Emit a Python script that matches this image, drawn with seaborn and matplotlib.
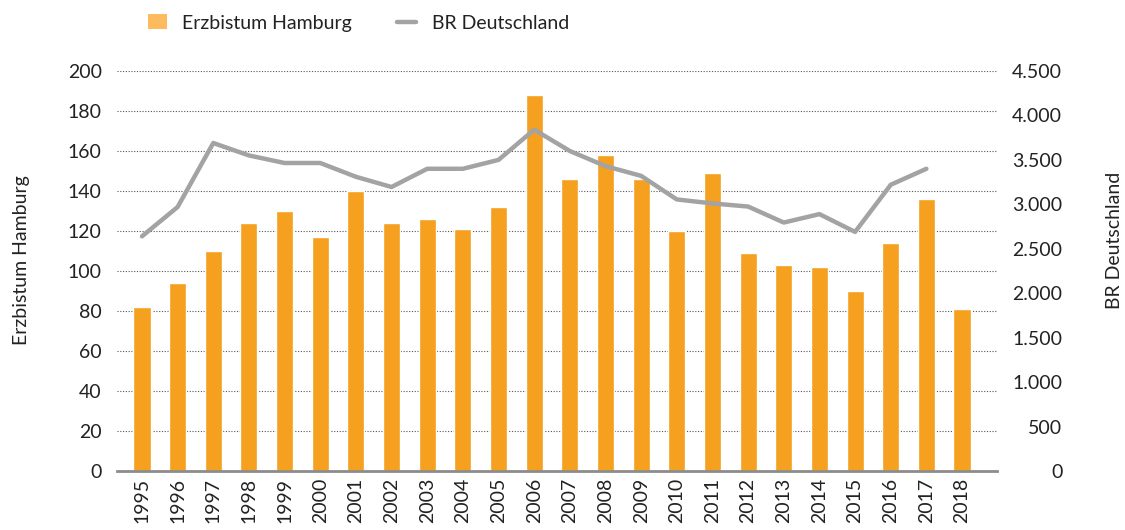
import pandas as pd
import numpy as np
import matplotlib.pyplot as plt
import seaborn as sns
from matplotlib.ticker import FuncFormatter, MultipleLocator
from matplotlib.patches import Patch
from matplotlib.lines import Line2D

years = [str(y) for y in range(1995, 2019)]
hamburg = [82, 94, 110, 124, 130, 117, 140, 124, 126, 121, 132, 188,
           146, 158, 146, 120, 149, 109, 103, 102, 90, 114, 136, 81]
# BR Deutschland: keine Angabe fuer 2018
deutschland = [2640, 2970, 3690, 3550, 3465, 3465, 3310, 3195, 3400, 3400,
               3500, 3840, 3600, 3430, 3320, 3055, 3010, 2975, 2795, 2890,
               2690, 3220, 3400]

bar_color = "#F5A01E"
line_color = "#A3A3A3"

sns.set_style("white")
plt.rcParams["font.family"] = ["Lato", "DejaVu Sans"]

df_bar = pd.DataFrame({"Jahr": years, "Wert": hamburg})
df_line = pd.DataFrame({"Jahr": years[:len(deutschland)], "Wert": deutschland})

fig = plt.figure(figsize=(11.25, 5.3), dpi=100)
ax = fig.add_axes([117 / 1125, 59 / 530, 880 / 1125, 400 / 530])

sns.barplot(data=df_bar, x="Jahr", y="Wert", color=bar_color, width=0.48,
            saturation=1, ax=ax, zorder=3)
ax.set_ylim(0, 200)
ax.set_xlim(-0.7, 23.98)
ax.yaxis.set_major_locator(MultipleLocator(20))
ax.grid(axis="y", linestyle=(0, (1, 1.5)), color="#555555", linewidth=0.8, zorder=0)
ax.set_axisbelow(True)
for s in ["top", "left", "right"]:
    ax.spines[s].set_visible(False)
ax.spines["bottom"].set_color("#8c8c8c")
ax.spines["bottom"].set_linewidth(2)
ax.spines["bottom"].set_zorder(5)
ax.tick_params(axis="y", length=0, pad=11, labelsize=14, colors="#222222")
ax.tick_params(axis="x", length=0, pad=5, labelsize=14, colors="#222222", labelrotation=90)
ax.set_xlabel("")
ax.set_ylabel("")
fig.text(22 / 1125, 1 - 260 / 530, "Erzbistum Hamburg", rotation=90, fontsize=14,
         color="#222222", ha="center", va="center")

ax2 = ax.twinx()
ax2.set_position(ax.get_position())
sns.lineplot(data=df_line, x="Jahr", y="Wert", color=line_color, linewidth=3.2,
             ax=ax2, sort=False)
ax2.set_ylim(0, 4500)
ax2.set_xlim(-0.7, 23.98)
ax2.yaxis.set_major_locator(MultipleLocator(500))
ax2.yaxis.set_major_formatter(FuncFormatter(lambda v, p: f"{int(v):,}".replace(",", ".")))
for s in ["top", "left", "right", "bottom"]:
    ax2.spines[s].set_visible(False)
ax2.tick_params(axis="y", length=0, pad=47, labelsize=14, colors="#222222")
for lab in ax2.get_yticklabels():
    lab.set_horizontalalignment("right")
ax2.set_ylabel("")
fig.text(1115 / 1125, 1 - 240 / 530, "BR Deutschland", rotation=90, fontsize=14,
         color="#222222", ha="center", va="center")

handles = [Patch(facecolor="#FDBB5E", edgecolor="none"),
           Line2D([0], [0], color=line_color, linewidth=3.2)]
fig.legend(handles, ["Erzbistum Hamburg", "BR Deutschland"], loc="center left",
           bbox_to_anchor=(130 / 1125, 1 - 23 / 530), ncol=2, frameon=False,
           fontsize=14, handlelength=1.0, handleheight=0.8, columnspacing=2.3,
           handletextpad=0.8, labelcolor="#222222")

fig.savefig("out.png", dpi=100)
